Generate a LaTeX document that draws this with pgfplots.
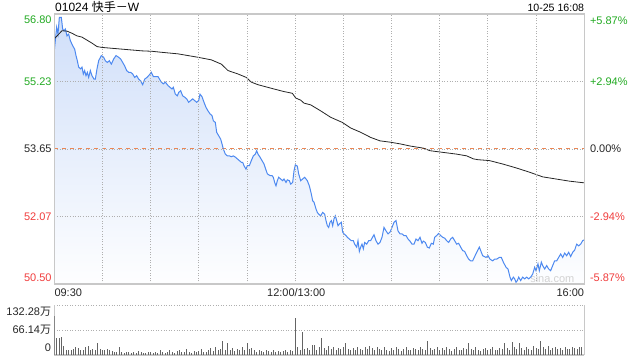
\documentclass[border=0pt]{standalone}
\usepackage{pgfplots}
\pgfplotsset{compat=1.18}
\usepackage{pgfplotstable}
\usepackage{fontspec}
\setmainfont{Liberation Sans}
\newfontfamily\cjk{Noto Sans CJK SC}
\definecolor{upgreen}{RGB}{34,170,34}
\definecolor{downred}{RGB}{240,60,60}
\definecolor{priceblue}{RGB}{77,137,240}
\definecolor{fillblue}{RGB}{208,223,249}
\definecolor{gridgray}{RGB}{175,175,175}
\definecolor{framegray}{RGB}{200,200,200}
\definecolor{refline}{RGB}{236,135,85}
\definecolor{volgray}{RGB}{100,100,100}

\pgfplotstableread{
m p
0 55.94
1.47 56.49
2.30 56.33
3.13 56.72
4.38 56.72
5.21 56.45
6.04 56.41
6.87 56.45
7.91 56.29
8.95 56.33
9.98 56.18
11.44 56.06
12.68 55.98
13.51 55.83
14.34 55.71
15.17 55.56
16.42 55.52
17.25 55.56
18.08 55.40
18.91 55.48
19.74 55.36
20.57 55.44
21.40 55.32
22.44 55.48
23.47 55.36
24.72 55.28
25.55 55.28
26.59 55.52
27.63 55.71
29.28 55.83
30.74 55.79
31.78 55.71
33.02 55.67
34.27 55.71
35.51 55.63
36.96 55.75
38.42 55.83
40.08 55.79
41.32 55.75
42.57 55.67
43.81 55.59
45.06 55.48
46.30 55.44
47.55 55.44
48.80 55.40
50.04 55.32
51.29 55.36
52.53 55.28
53.78 55.24
55.02 55.15
56.27 55.28
57.72 55.32
59.17 55.38
60.42 55.44
61.66 55.34
64.57 55.34
66.65 55.21
67.89 55.17
69.14 55.21
70.80 55.13
72.04 55.09
73.29 55.05
74.12 55.09
75.36 54.93
76.61 54.89
77.44 54.97
78.68 55.01
79.93 54.89
81.17 54.86
82.42 54.82
83.66 54.74
84.91 54.78
86.16 54.82
87.40 54.78
88.65 54.74
89.89 54.78
90.72 54.93
91.97 54.87
93.21 54.74
94.46 54.62
95.70 54.54
96.95 54.47
98.19 54.43
99.02 54.31
100.27 54.27
101.10 54.04
102.34 53.96
103.59 53.88
104.42 53.77
105.25 53.65
106.50 53.53
107.74 53.49
108.99 53.49
110.23 53.47
111.48 53.49
112.72 53.46
113.97 53.42
115.21 53.38
116.46 53.34
117.29 53.34
118.12 53.26
119.36 53.18
120.19 53.26
121.44 53.26
122.68 53.38
123.93 53.49
125.17 53.53
126.00 53.61
126.84 53.53
128.08 53.46
129.33 53.38
130.57 53.30
131.82 53.16
132.65 53.07
134.31 53.03
135.55 53.03
136.38 52.99
137.21 52.87
138.04 52.79
138.87 52.91
139.70 52.99
140.95 52.95
142.19 52.91
143.02 52.95
144.27 52.87
145.10 52.93
146.34 52.91
147.17 52.83
148.42 52.87
149.25 53.14
150.08 53.28
151.33 53.25
152.16 53.07
153.40 52.91
154.65 52.95
155.89 52.99
156.72 52.95
157.55 52.91
158.80 52.79
160.04 52.60
160.87 52.44
161.70 52.41
162.95 52.25
163.78 52.17
164.61 52.13
165.86 52.09
167.10 52.17
168.34 52.13
169.17 51.98
170.00 51.86
170.84 51.82
171.67 51.94
172.50 51.98
173.33 51.86
174.16 52.02
174.99 52.09
175.82 51.98
176.65 51.86
177.48 51.90
178.72 51.94
179.55 51.71
180.38 51.67
181.63 51.63
182.46 51.59
183.70 51.55
184.95 51.51
186.19 51.51
187.02 51.43
188.27 51.36
189.10 51.51
189.93 51.26
190.76 51.36
191.59 51.43
192.42 51.32
193.25 51.47
194.50 51.43
195.74 51.51
196.99 51.51
197.82 51.57
199.06 51.65
200.31 51.51
201.55 51.43
202.80 51.47
204.04 51.59
205.29 51.82
206.53 51.74
207.78 51.67
209.02 51.71
210.27 51.82
211.51 51.94
212.76 51.98
214.00 51.74
215.25 51.67
216.49 51.67
217.74 51.63
218.98 51.63
220.23 51.55
221.48 51.50
222.72 51.43
223.97 51.43
225.21 51.55
226.46 51.51
227.70 51.59
228.95 51.45
229.78 51.50
231.02 51.47
232.27 51.36
233.51 51.34
234.76 51.45
236.00 51.43
236.83 51.59
238.08 51.63
239.33 51.68
240.57 51.63
241.82 51.59
243.06 51.57
244.31 51.51
245.55 51.47
246.80 51.55
248.04 51.59
249.29 51.51
250.53 51.43
251.78 51.45
253.02 51.36
254.27 51.28
255.51 51.26
256.76 51.16
258.00 51.08
259.25 51.04
260.49 51.04
261.74 51.14
262.99 51.24
264.65 51.36
266.72 51.16
268.80 51.12
270.04 51.16
271.29 51.08
272.95 51.04
274.19 51.08
275.44 51.08
277.10 51.12
278.34 51.12
279.59 51.01
281.25 50.89
282.49 50.85
283.74 50.66
284.57 50.58
285.82 50.66
286.65 50.62
287.48 50.54
288.31 50.58
289.14 50.66
290.38 50.58
291.63 50.66
292.87 50.62
294.12 50.66
295.36 50.62
296.61 50.66
297.85 50.73
299.10 50.89
299.93 50.81
301.17 50.97
302.00 50.81
303.25 51.01
304.08 50.93
305.33 50.85
306.57 50.93
307.82 50.85
309.06 50.81
310.31 50.93
311.55 51.04
312.80 51.04
314.04 51.12
315.29 51.20
316.53 51.12
317.78 51.22
319.02 51.16
320.27 51.24
321.51 51.14
322.76 51.24
324.00 51.29
325.25 51.43
326.49 51.39
327.74 51.43
328.98 51.51
330.00 51.53
}\pricetab

\pgfplotstableread{
m a
0 56.22
4.79 56.41
7.91 56.40
11.02 56.35
14.13 56.29
17.25 56.26
20.36 56.19
23.47 56.12
26.59 56.04
29.70 56.02
35.93 56.00
42.15 55.98
48.38 55.96
54.61 55.94
60.83 55.93
65.81 55.91
77.02 55.87
89.48 55.79
97.78 55.73
104.00 55.63
108.16 55.48
114.38 55.40
119.57 55.32
122.68 55.21
126.84 55.15
131.82 55.10
136.80 55.05
143.02 54.99
148.21 54.95
150.29 54.84
153.40 54.79
155.48 54.72
159.63 54.68
165.85 54.54
172.08 54.39
179.34 54.27
184.53 54.14
190.76 54.04
196.99 53.92
202.80 53.84
209.02 53.81
215.25 53.77
221.48 53.72
229.78 53.67
233.93 53.61
242.23 53.57
250.53 53.53
256.76 53.49
260.91 53.42
263.82 53.40
270.87 53.38
279.17 53.30
287.48 53.21
295.78 53.11
304.08 53.00
312.38 52.95
320.68 52.90
330.00 52.86
}\avgtab

\pgfplotstableread{
v
104
45
46
48
25
14
12
13
15
20
18
14
12
20
25
12
15
14
31
16
13
14
16
12
10
8
9
22
8
6
9
7
5
8
6
10
7
5
6
9
7
5
8
6
12
7
5
9
14
8
6
10
12
8
7
15
9
6
11
8
10
16
9
7
12
18
10
21
13
15
37
12
32
14
18
11
16
13
20
12
32
15
18
12
9
14
11
8
12
10
9
13
8
11
7
10
12
9
14
11
99
20
14
62
15
18
12
27
27
14
20
45
18
12
24
16
20
13
18
15
22
32
16
12
19
14
22
17
12
20
15
24
18
13
20
16
12
22
14
10
18
13
20
15
11
17
22
14
12
19
16
13
20
15
14
37
18
12
16
20
14
18
12
22
15
11
17
20
14
13
18
15
32
16
12
20
14
11
15
18
13
17
20
14
12
19
16
32
18
14
34
20
15
32
18
13
22
16
14
25
18
15
37
20
16
24
14
19
22
16
18
14
20
17
15
22
18
16
20
22
132.28
}\voltab

\begin{document}
\begin{tikzpicture}
\fontsize{11pt}{13pt}\selectfont
\path[use as bounding box] (0pt,0pt) rectangle (640pt,360pt);
% title
\node[anchor=base west, inner sep=0pt, font=\fontsize{12pt}{14pt}\selectfont] at (55pt,348.3pt) {01024 {\cjk 快手－}W};
\node[anchor=base east, inner sep=0pt, font=\fontsize{10.6pt}{13pt}\selectfont] at (584.3pt,348.6pt) {10-25 16:08};

\begin{axis}[
  at={(54.3pt,346pt)}, anchor=north west,
  width=530pt, height=270pt, scale only axis,
  xmin=0, xmax=330, ymin=50.50, ymax=56.80,
  xtick={0,30,...,330}, ytick={52.07,53.65,55.23},
  xticklabels={}, yticklabels={},
  major tick length=0pt,
  grid=major,
  major grid style={gridgray, line width=0.9pt, dash pattern=on 1pt off 1.6pt},
  axis line style={framegray, line width=1.1pt},
  axis on top,
  clip mode=individual,
]
\addplot[draw=none, top color=fillblue, bottom color=white!97!fillblue]
  table[x=m, y=p] {\pricetab} -- (axis cs:330,50.50) -- (axis cs:0,50.50) -- cycle;
\node[inner sep=0pt, text=gray!35, font=\fontsize{11pt}{13pt}\selectfont] at ([xshift=-32pt,yshift=5pt]rel axis cs:1,0) {sina.com};
\addplot[refline, line width=1pt, dash pattern=on 4pt off 4pt] coordinates {(0,53.65) (330,53.65)};
\addplot[priceblue, line width=1pt] table[x=m, y=p] {\pricetab};
\addplot[black!85, line width=0.8pt] table[x=m, y=a] {\avgtab};

% left labels
\node[anchor=east, inner sep=0pt, text=upgreen] at ([xshift=-2.5pt,yshift=-6pt]rel axis cs:0,1) {56.80};
\node[anchor=east, inner sep=0pt, text=upgreen] at ([xshift=-2.5pt]axis cs:0,55.23) {55.23};
\node[anchor=east, inner sep=0pt, text=black!85] at ([xshift=-2.5pt]axis cs:0,53.65) {53.65};
\node[anchor=east, inner sep=0pt, text=downred] at ([xshift=-2.5pt]axis cs:0,52.07) {52.07};
\node[anchor=east, inner sep=0pt, text=downred] at ([xshift=-2.5pt,yshift=6.5pt]rel axis cs:0,0) {50.50};
% right labels
\node[anchor=west, inner sep=0pt, text=upgreen] at ([xshift=5.5pt,yshift=-7pt]rel axis cs:1,1) {+5.87\%};
\node[anchor=west, inner sep=0pt, text=upgreen] at ([xshift=5.5pt]axis cs:330,55.23) {+2.94\%};
\node[anchor=west, inner sep=0pt, text=black!85] at ([xshift=5.5pt]axis cs:330,53.65) {0.00\%};
\node[anchor=west, inner sep=0pt, text=downred] at ([xshift=5.5pt]axis cs:330,52.07) {-2.94\%};
\node[anchor=west, inner sep=0pt, text=downred] at ([xshift=5.5pt,yshift=6pt]rel axis cs:1,0) {-5.87\%};
% time labels
\node[anchor=base west, inner sep=0pt, text=black!85] at ([yshift=-12.7pt]rel axis cs:0,0) {09:30};
\node[anchor=base, inner sep=0pt, text=black!85] at ([xshift=1pt,yshift=-12.7pt]axis cs:150,50.50) {12:00/13:00};
\node[anchor=base east, inner sep=0pt, text=black!85] at ([yshift=-12.7pt]rel axis cs:1,0) {16:00};
\end{axis}

\begin{axis}[
  at={(54.3pt,55pt)}, anchor=north west,
  width=530pt, height=50pt, scale only axis,
  xmin=0, xmax=330, ymin=0, ymax=132.28,
  xtick=\empty, ytick={66.14,132.28}, yticklabels={},
  major tick length=0pt,
  ymajorgrids,
  major grid style={gridgray, line width=0.9pt, dash pattern=on 1pt off 1.6pt},
  axis x line*=bottom, axis y line*=left,
  axis line style={framegray, line width=1.1pt, -},
  clip mode=individual,
]
\addplot[ycomb, volgray, line width=1pt, mark=none] table[x expr=\coordindex*1.5, y=v] {\voltab};
\node[anchor=east, inner sep=0pt, text=black!85] at ([xshift=-3pt,yshift=-7pt]rel axis cs:0,1) {132.28{\cjk 万}};
\node[anchor=east, inner sep=0pt, text=black!85] at ([xshift=-3pt]axis cs:0,66.14) {66.14{\cjk 万}};
\node[anchor=east, inner sep=0pt, text=black!85] at ([xshift=-3pt,yshift=7pt]rel axis cs:0,0) {0};
\end{axis}
\end{tikzpicture}
\end{document}
